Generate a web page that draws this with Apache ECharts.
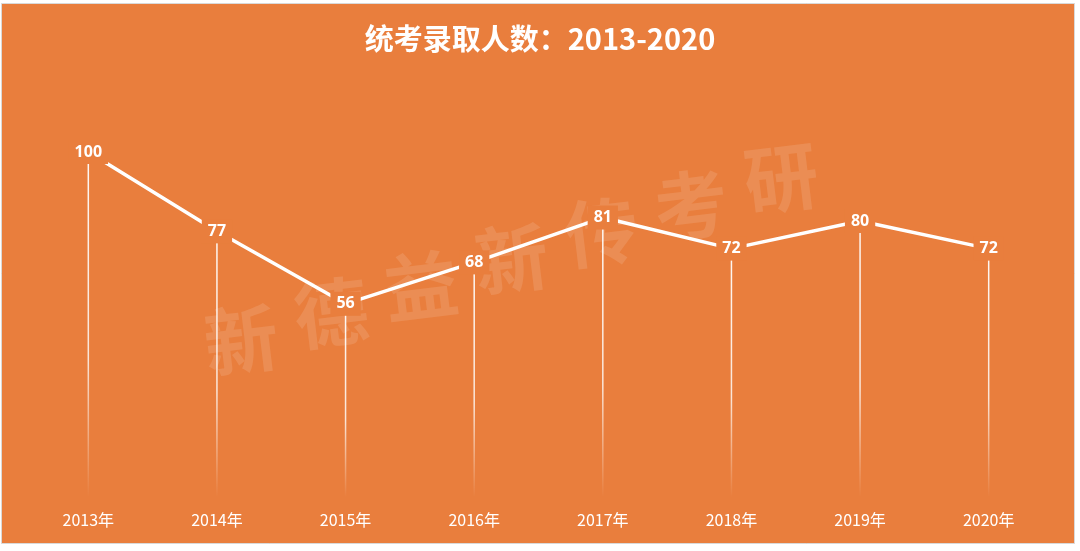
<!DOCTYPE html>
<html>
<head>
<meta charset="utf-8">
<style>html,body{margin:0;padding:0;background:#fff;}#c{width:1080px;height:551px;}</style>
<script src="https://cdn.jsdelivr.net/npm/echarts@6/dist/echarts.min.js"></script>
</head>
<body>
<div id="c"></div>
<script>
const years = ['2013年','2014年','2015年','2016年','2017年','2018年','2019年','2020年'];
const admitted = [100, 77, 56, 68, 81, 72, 80, 72];
const titleText = '统考录取人数：2013-2020';
const watermark = '新德益新传考研';

const ORANGE = '#E97E3D';
const wmGraphics = Array.from(watermark).map((ch, i) => ({
  type: 'text', z: -5, x: 241 + i * 90, y: 340 - i * 27, rotation: 0.12,
  style: {text: ch, fill: 'rgba(255,255,255,0.12)', font: 'bold 74px "Noto Sans CJK SC"', align: 'center', verticalAlign: 'middle'}
}));
const chart = echarts.init(document.getElementById('c'), null, {renderer: 'canvas'});
chart.setOption({
  backgroundColor: '#ffffff',
  animation: false,
  graphic: [
    {type: 'rect', z: -10, shape: {x: 1.5, y: 3.5, width: 1073, height: 540}, style: {fill: ORANGE, stroke: '#d9d9d9', lineWidth: 1}}
  ].concat(wmGraphics),
  title: {
    text: titleText, left: 'center', top: 19,
    textStyle: {color: '#fff', fontSize: 29, fontWeight: 'bold', fontFamily: '"Noto Sans CJK SC"'}
  },
  grid: {left: 24, right: 27, top: 83, bottom: 54},
  xAxis: {
    type: 'category', data: years, boundaryGap: true,
    axisLine: {show: false}, axisTick: {show: false}, splitLine: {show: false},
    axisLabel: {color: '#fff', fontSize: 16, margin: 15, fontFamily: '"Noto Sans CJK SC"'}
  },
  yAxis: {type: 'value', min: 0, max: 120, show: false, splitLine: {show: false}},
  series: [
    {
      type: 'bar', data: admitted, barWidth: 1.5, z: 1, silent: true,
      itemStyle: {color: new echarts.graphic.LinearGradient(0, 0, 0, 1, [
        {offset: 0, color: 'rgba(255,255,255,0.95)'},
        {offset: 0.6, color: 'rgba(255,255,255,0.8)'},
        {offset: 1, color: 'rgba(255,255,255,0)'}
      ])}
    },
    {
      type: 'line', data: admitted, z: 2, symbol: 'none', silent: true,
      lineStyle: {color: '#fff', width: 3.5}
    },
    {
      type: 'scatter', data: admitted, z: 5, symbolSize: 1, silent: true,
      itemStyle: {color: ORANGE, opacity: 1},
      label: {show: true, position: 'inside', color: '#ffffff', fontSize: 16, fontWeight: 'bold',
        fontFamily: '"Noto Sans"', backgroundColor: ORANGE, padding: [4, 6]},
      emphasis: {disabled: true}
    }
  ]
});
</script>
</body>
</html>
